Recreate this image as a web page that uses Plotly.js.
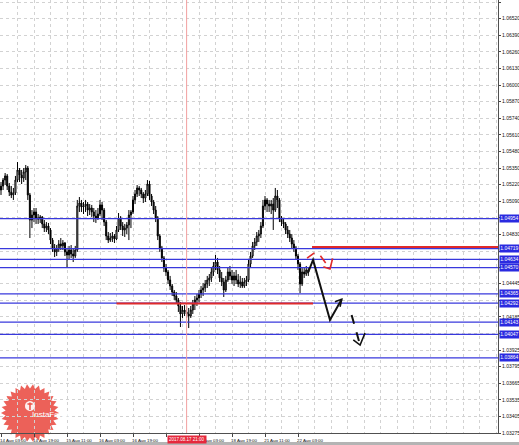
<!DOCTYPE html>
<html><head><meta charset="utf-8">
<script src="https://cdn.plot.ly/plotly-3.0.1.min.js"></script>
<style>html,body{margin:0;padding:0;background:#fff;overflow:hidden}#chart{width:519px;height:445px}</style>
</head><body><div id="chart"></div>
<script>
// H1 bars, 14 Aug 03:00 .. 22 Aug 08:00 (bar index = position on the time axis)
const openP = [1.05178,1.05209,1.05256,1.05288,1.05209,1.05162,1.05139,1.05155,1.05256,1.05335,
1.05295,1.05272,1.05319,1.05350,1.05139,1.04943,1.04982,1.05006,1.04959,1.04951,
1.04967,1.04912,1.04880,1.04896,1.04865,1.04786,1.04724,1.04693,1.04716,1.04755,
1.04740,1.04763,1.04693,1.04669,1.04708,1.04677,1.04661,1.04708,1.05053,1.05076,
1.05045,1.05053,1.05068,1.05021,1.05037,1.05006,1.04974,1.04959,1.04990,1.05061,
1.05021,1.04927,1.04818,1.04786,1.04802,1.04818,1.04794,1.04865,1.04959,1.04896,
1.04865,1.04880,1.04904,1.04982,1.05006,1.05100,1.05147,1.05194,1.05178,1.05147,
1.05115,1.05147,1.05225,1.05131,1.05084,1.05021,1.04959,1.04818,1.04724,1.04646,
1.04567,1.04536,1.04473,1.04426,1.04379,1.04348,1.04317,1.04270,1.04207,1.04238,
1.04223,1.04207,1.04191,1.04238,1.04285,1.04317,1.04332,1.04364,1.04395,1.04411,
1.04442,1.04473,1.04489,1.04536,1.04583,1.04614,1.04552,1.04489,1.04458,1.04395,
1.04473,1.04536,1.04505,1.04473,1.04505,1.04473,1.04442,1.04458,1.04426,1.04458,
1.04473,1.04599,1.04661,1.04740,1.04771,1.04818,1.04833,1.04896,1.05053,1.05100,
1.05068,1.05053,1.05068,1.05021,1.05131,1.05100,1.04959,1.04927,1.04912,1.04865,
1.04833,1.04802,1.04755,1.04724,1.04661,1.04599,1.04442,1.04536,1.04520,1.04552];
const highP = [1.05241,1.05272,1.05311,1.05303,1.05233,1.05209,1.05194,1.05288,1.05397,1.05350,
1.05335,1.05350,1.05374,1.05366,1.05155,1.05021,1.05037,1.05037,1.04990,1.04982,
1.04974,1.04943,1.04927,1.04920,1.04880,1.04802,1.04755,1.04747,1.04786,1.04802,
1.04786,1.04771,1.04724,1.04740,1.04747,1.04724,1.04740,1.05100,1.05123,1.05100,
1.05084,1.05100,1.05084,1.05068,1.05061,1.05037,1.05021,1.05037,1.05100,1.05084,
1.05037,1.04943,1.04849,1.04841,1.04849,1.04833,1.04896,1.04998,1.04974,1.04927,
1.04912,1.04927,1.05021,1.05021,1.05131,1.05178,1.05217,1.05209,1.05194,1.05162,
1.05178,1.05256,1.05249,1.05147,1.05100,1.05053,1.04974,1.04833,1.04740,1.04661,
1.04599,1.04552,1.04505,1.04442,1.04395,1.04379,1.04332,1.04301,1.04270,1.04277,
1.04270,1.04254,1.04270,1.04317,1.04348,1.04364,1.04395,1.04426,1.04450,1.04473,
1.04505,1.04520,1.04567,1.04614,1.04669,1.04646,1.04583,1.04536,1.04489,1.04505,
1.04567,1.04583,1.04552,1.04536,1.04552,1.04520,1.04505,1.04489,1.04489,1.04505,
1.04630,1.04693,1.04771,1.04802,1.04849,1.04865,1.04927,1.05100,1.05131,1.05115,
1.05100,1.05100,1.05115,1.05194,1.05178,1.05115,1.04974,1.04959,1.04927,1.04896,
1.04865,1.04833,1.04786,1.04740,1.04677,1.04614,1.04567,1.04567,1.04583,1.04567];
const lowP = [1.05139,1.05178,1.05217,1.05178,1.05131,1.05115,1.05100,1.05139,1.05241,1.05241,
1.05225,1.05241,1.05256,1.05100,1.04802,1.04880,1.04927,1.04912,1.04912,1.04920,
1.04880,1.04849,1.04849,1.04833,1.04755,1.04693,1.04653,1.04661,1.04693,1.04708,
1.04708,1.04661,1.04567,1.04630,1.04646,1.04614,1.04646,1.04693,1.05006,1.05006,
1.04990,1.05006,1.04974,1.04982,1.04967,1.04927,1.04920,1.04943,1.04974,1.04943,
1.04896,1.04786,1.04763,1.04771,1.04771,1.04763,1.04786,1.04849,1.04865,1.04818,
1.04810,1.04833,1.04786,1.04880,1.04990,1.05068,1.05123,1.05131,1.05115,1.05076,
1.05084,1.05131,1.05100,1.05053,1.04990,1.04927,1.04786,1.04693,1.04614,1.04536,
1.04505,1.04442,1.04395,1.04348,1.04317,1.04293,1.04223,1.04105,1.04176,1.04191,
1.04176,1.04097,1.04176,1.04207,1.04238,1.04270,1.04301,1.04332,1.04348,1.04379,
1.04411,1.04426,1.04458,1.04505,1.04552,1.04520,1.04458,1.04426,1.04340,1.04379,
1.04458,1.04473,1.04442,1.04426,1.04442,1.04418,1.04411,1.04411,1.04411,1.04426,
1.04458,1.04567,1.04646,1.04708,1.04740,1.04771,1.04802,1.04880,1.05021,1.05006,
1.05006,1.04990,1.04865,1.05006,1.05037,1.04927,1.04896,1.04880,1.04833,1.04802,
1.04771,1.04724,1.04693,1.04630,1.04552,1.04371,1.04426,1.04489,1.04505,1.04505];
const closeP = [1.05209,1.05256,1.05288,1.05209,1.05162,1.05139,1.05155,1.05256,1.05335,1.05295,
1.05272,1.05319,1.05350,1.05139,1.04943,1.04982,1.05006,1.04959,1.04951,1.04967,
1.04912,1.04880,1.04896,1.04865,1.04786,1.04724,1.04693,1.04716,1.04755,1.04740,
1.04763,1.04693,1.04669,1.04708,1.04677,1.04661,1.04708,1.05053,1.05076,1.05045,
1.05053,1.05068,1.05021,1.05037,1.05006,1.04974,1.04959,1.04990,1.05061,1.05021,
1.04927,1.04818,1.04786,1.04802,1.04818,1.04794,1.04865,1.04959,1.04896,1.04865,
1.04880,1.04904,1.04982,1.05006,1.05100,1.05147,1.05194,1.05178,1.05147,1.05115,
1.05147,1.05225,1.05131,1.05084,1.05021,1.04959,1.04818,1.04724,1.04646,1.04567,
1.04536,1.04473,1.04426,1.04379,1.04348,1.04317,1.04270,1.04207,1.04238,1.04223,
1.04207,1.04191,1.04238,1.04285,1.04317,1.04332,1.04364,1.04395,1.04411,1.04442,
1.04473,1.04489,1.04536,1.04583,1.04614,1.04552,1.04489,1.04458,1.04395,1.04473,
1.04536,1.04505,1.04473,1.04505,1.04473,1.04442,1.04458,1.04426,1.04458,1.04473,
1.04599,1.04661,1.04740,1.04771,1.04818,1.04833,1.04896,1.05053,1.05100,1.05068,
1.05053,1.05068,1.05021,1.05131,1.05100,1.04959,1.04927,1.04912,1.04865,1.04833,
1.04802,1.04755,1.04724,1.04661,1.04599,1.04442,1.04536,1.04520,1.04552,1.04536];

const timeLabels = ['14 Aug 03:00','14 Aug 19:00','15 Aug 11:00','16 Aug 03:00','16 Aug 19:00',
                    '','18 Aug 03:00','18 Aug 19:00','21 Aug 11:00','22 Aug 03:00'];
const timeLabelBars = [0,16,32,48,64,80,96,112,128,144];

const priceTicks = [1.03275,1.03405,1.03535,1.03665,1.03795,1.03925,1.04055,1.04185,1.04315,
  1.04445,1.04575,1.04700,1.04830,1.04960,1.05090,1.05220,1.05350,1.05480,1.05610,1.05740,
  1.05870,1.06000,1.06130,1.06260,1.06390,1.06520,1.06650];
const priceTickLabels = ['1.03275','1.03405','1.03535','1.03665','1.03795','1.03925','','1.04185','',
  '1.04445','','','1.04830','','1.05090','1.05220','1.05350','1.05480','1.05610','1.05740',
  '1.05870','1.06000','1.06130','1.06260','1.06390','1.06520','1.06650'];

const levels = [1.04954,1.04719,1.04634,1.04570,1.04365,1.04292,1.04143,1.04047,1.03864];
const levelLabels = ['1.04954','1.04719','1.04634','1.04570','1.04365','1.04292','1.04143','1.04047','1.03864'];
const resistanceLevel = 1.04732;
const supportLevel = 1.04289;
const crossBar = 90;
const crossLabel = '2017.08.17 21:00';

const barIndex = openP.map((_, i) => i);

const trace = {
  type: 'candlestick', x: barIndex, open: openP, high: highP, low: lowP, close: closeP,
  increasing: {line: {color: '#000', width: 1}, fillcolor: '#ffffff'},
  decreasing: {line: {color: '#000', width: 1}, fillcolor: '#000000'},
  whiskerwidth: 0, hoverinfo: 'none', showlegend: false
};

const BLUE = '#3838dc', RED = '#e02a2a', GRID = '#d2d2d2';
const shapes = [];
const PW = 498, PH = 433;
function px2p(x, y){ return (x/PW).toFixed(4) + ',' + (1 - y/PH).toFixed(4); }
let star = '';
const nSp = 30;
for (let k = 0; k < 2*nSp; k++) {
  const a = Math.PI * k / nSp, rr = (k % 2) ? 24.5 : 29;
  star += (k ? 'L' : 'M') + px2p(30 + rr*Math.cos(a), 413 + rr*Math.sin(a));
}
star += 'Z';
shapes.push({type:'path', xref:'paper', yref:'paper', path: star, fillcolor:'rgba(232,62,52,0.82)', line:{width:0}, layer:'below'});
let circ = '';
for (let k = 0; k < 24; k++) { const a = 2*Math.PI*k/24; circ += (k ? 'L' : 'M') + px2p(30 + 5*Math.cos(a), 406 + 5*Math.sin(a)); }
circ += 'Z';
shapes.push({type:'path', xref:'paper', yref:'paper', path: circ, fillcolor:'rgba(255,255,255,0.9)', line:{width:0}, layer:'below'});
shapes.push({type:'path', xref:'paper', yref:'paper', path: 'M'+px2p(30,402.5)+'L'+px2p(30,410)+'M'+px2p(27.5,404)+'L'+px2p(32.5,404), line:{color:'rgba(232,62,52,0.9)', width:1.5}, layer:'below'});

levels.forEach(v => shapes.push({type:'line', xref:'paper', x0:0, x1:1, yref:'y', y0:v, y1:v, line:{color:BLUE, width:1.2}}));
shapes.push({type:'line', xref:'x', x0:crossBar, x1:crossBar, yref:'paper', y0:0, y1:1, line:{color:'#f2a0a0', width:1}});
shapes.push({type:'line', xref:'x', x0:56, x1:151.3, yref:'y', y0:supportLevel, y1:supportLevel, line:{color:RED, width:2}});
shapes.push({type:'line', xref:'x', x0:150.8, x1:245, yref:'y', y0:resistanceLevel, y1:resistanceLevel, line:{color:RED, width:2}});
shapes.push({type:'path', xref:'x', yref:'y', path:'M148.8,1.04528L151.3,1.04630L159.5,1.04160L165.2,1.04322', line:{color:'#111', width:2}});
shapes.push({type:'path', xref:'x', yref:'y', path:'M161.9,1.04303L165.2,1.04322L164.4,1.04264', line:{color:'#111', width:1.6}});
shapes.push({type:'path', xref:'x', yref:'y', path:'M170.0,1.04199L174.1,1.03964', line:{color:'#111', width:2, dash:'dash'}});
shapes.push({type:'path', xref:'x', yref:'y', path:'M170.8,1.04004L174.1,1.03964L176.5,1.04058', line:{color:'#111', width:1.6}});
shapes.push({type:'path', xref:'x', yref:'y', path:'M148.4,1.04645L153.2,1.04700L159.5,1.04559', line:{color:RED, width:1.6, dash:'dash'}});
shapes.push({type:'path', xref:'x', yref:'y', path:'M156.3,1.04577L159.5,1.04559L160.8,1.04643', line:{color:RED, width:1.6}});
shapes.push({type:'rect', xref:'paper', yref:'paper', x0:-0.01, x1:1.05, y0:-0.0208, y1:-0.03, fillcolor:'#b4b4b4', line:{width:0}});

const annotations = [];
levels.forEach((v, i) => annotations.push({xref:'paper', x:1, xanchor:'left', xshift:1, yref:'y', y:v, yanchor:'middle',
  text: levelLabels[i], showarrow:false, bgcolor:'#2a2ae0', borderpad:0.3, font:{color:'#fff', size:5, family:'Liberation Sans, Arial, sans-serif'}}));
annotations.push({xref:'x', x:crossBar, yref:'paper', y:0, yanchor:'top', yshift:-2, text: crossLabel, showarrow:false,
  bgcolor:'#e6283c', borderpad:1, font:{color:'#fff', size:4.5, family:'Liberation Sans, Arial, sans-serif'}});
annotations.push({xref:'paper', x:30/PW, yref:'paper', y:1-421/PH, text:'InstaForex', showarrow:false,
  font:{color:'#fff', size:8, family:'Liberation Sans, Arial, sans-serif'}});

const layout = {
  width: 519, height: 445,
  margin: {l:0, r:21, t:0, b:12, pad:0},
  paper_bgcolor: '#ffffff', plot_bgcolor: '#ffffff',
  showlegend: false, dragmode: false,
  font: {family: 'Liberation Sans, Arial, sans-serif', size: 5, color: '#111'},
  xaxis: {
    range: [-0.485, 240.97], rangeslider: {visible: false},
    tickmode: 'array', tickvals: timeLabelBars, ticktext: timeLabels,
    ticks: 'outside', ticklen: 3, tickcolor: '#444', tickfont: {size: 4.4, color: '#111'},
    ticklabelshift: 12,
    showgrid: true, gridcolor: GRID, griddash: 'dot', gridwidth: 1,
    minor: {tick0: 0, dtick: 8, showgrid: true, gridcolor: GRID, griddash: 'dot', gridwidth: 1, ticks: ''},
    showline: true, linecolor: '#505050', linewidth: 1, zeroline: false, fixedrange: true
  },
  yaxis: {
    side: 'right', range: [1.03275, 1.06666],
    tickmode: 'array', tickvals: priceTicks, ticktext: priceTickLabels,
    ticks: 'outside', ticklen: 2, tickcolor: '#444', tickfont: {size: 5, color: '#111'},
    showgrid: true, gridcolor: GRID, griddash: 'dot', gridwidth: 1,
    showline: true, linecolor: '#505050', linewidth: 1, zeroline: false, fixedrange: true
  },
  shapes: shapes,
  annotations: annotations
};

Plotly.newPlot('chart', [trace], layout, {staticPlot: true, displayModeBar: false});
</script>
</body></html>
